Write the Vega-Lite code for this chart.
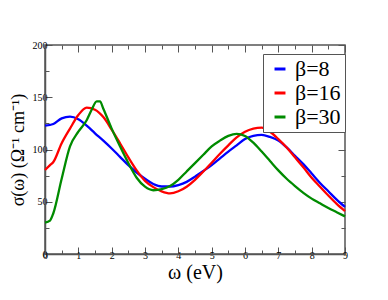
{
  "$schema": "https://vega.github.io/schema/vega-lite/v6.json",
  "autosize": {"type": "none"},
  "width": 300,
  "height": 209,
  "padding": {"left": 45, "top": 45, "right": 43, "bottom": 46},
  "background": "white",
  "config": {
    "font": "Liberation Serif",
    "view": {"stroke": "#555555", "strokeWidth": 1.5},
    "axis": {"grid": false, "labelFont": "Liberation Serif", "titleFont": "Liberation Serif", "labelColor": "black", "titleColor": "black", "domainColor": "#555555", "tickColor": "#555555", "titleFontWeight": "normal", "labelFontSize": 10, "domainWidth": 1.5, "tickWidth": 1},
    "legend": {"labelFont": "Liberation Serif"}
  },
  "data": {"values": [
    {"w":0,"s":122.8,"b":"β=8"},{"w":0.25,"s":124.4,"b":"β=8"},{"w":0.5,"s":129.8,"b":"β=8"},{"w":0.75,"s":131.4,"b":"β=8"},{"w":1.0,"s":128.9,"b":"β=8"},{"w":1.25,"s":122.8,"b":"β=8"},{"w":1.5,"s":115.5,"b":"β=8"},{"w":1.75,"s":108.5,"b":"β=8"},{"w":2.0,"s":101,"b":"β=8"},{"w":2.25,"s":93,"b":"β=8"},{"w":2.5,"s":85,"b":"β=8"},{"w":2.75,"s":78,"b":"β=8"},{"w":3.0,"s":72,"b":"β=8"},{"w":3.25,"s":67,"b":"β=8"},{"w":3.5,"s":64.6,"b":"β=8"},{"w":3.75,"s":64.6,"b":"β=8"},{"w":4.0,"s":66,"b":"β=8"},{"w":4.25,"s":69,"b":"β=8"},{"w":4.5,"s":74,"b":"β=8"},{"w":4.75,"s":79.4,"b":"β=8"},{"w":5.0,"s":85,"b":"β=8"},{"w":5.25,"s":91.5,"b":"β=8"},{"w":5.5,"s":98,"b":"β=8"},{"w":5.75,"s":104,"b":"β=8"},{"w":6.0,"s":110,"b":"β=8"},{"w":6.25,"s":113,"b":"β=8"},{"w":6.5,"s":114,"b":"β=8"},{"w":6.75,"s":112,"b":"β=8"},{"w":7.0,"s":108.5,"b":"β=8"},{"w":7.25,"s":102,"b":"β=8"},{"w":7.5,"s":94,"b":"β=8"},{"w":7.75,"s":86,"b":"β=8"},{"w":8.0,"s":77,"b":"β=8"},{"w":8.25,"s":68,"b":"β=8"},{"w":8.5,"s":60,"b":"β=8"},{"w":8.75,"s":52,"b":"β=8"},{"w":9.0,"s":45,"b":"β=8"},
    {"w":0,"s":80.4,"b":"β=16"},{"w":0.15,"s":85,"b":"β=16"},{"w":0.25,"s":88,"b":"β=16"},{"w":0.5,"s":106,"b":"β=16"},{"w":0.75,"s":120,"b":"β=16"},{"w":1.0,"s":133,"b":"β=16"},{"w":1.25,"s":140,"b":"β=16"},{"w":1.5,"s":138,"b":"β=16"},{"w":1.75,"s":131,"b":"β=16"},{"w":2.0,"s":119,"b":"β=16"},{"w":2.25,"s":106,"b":"β=16"},{"w":2.5,"s":92.5,"b":"β=16"},{"w":2.75,"s":80,"b":"β=16"},{"w":3.0,"s":70,"b":"β=16"},{"w":3.25,"s":64,"b":"β=16"},{"w":3.5,"s":60,"b":"β=16"},{"w":3.75,"s":58,"b":"β=16"},{"w":4.0,"s":60,"b":"β=16"},{"w":4.25,"s":64.4,"b":"β=16"},{"w":4.5,"s":71,"b":"β=16"},{"w":4.75,"s":79,"b":"β=16"},{"w":5.0,"s":87.4,"b":"β=16"},{"w":5.25,"s":96,"b":"β=16"},{"w":5.5,"s":104,"b":"β=16"},{"w":5.75,"s":111.6,"b":"β=16"},{"w":6.0,"s":117,"b":"β=16"},{"w":6.25,"s":120,"b":"β=16"},{"w":6.5,"s":121,"b":"β=16"},{"w":6.75,"s":117,"b":"β=16"},{"w":7.0,"s":110,"b":"β=16"},{"w":7.25,"s":102,"b":"β=16"},{"w":7.5,"s":92.5,"b":"β=16"},{"w":7.75,"s":83,"b":"β=16"},{"w":8.0,"s":73,"b":"β=16"},{"w":8.25,"s":64.4,"b":"β=16"},{"w":8.5,"s":56,"b":"β=16"},{"w":8.75,"s":48,"b":"β=16"},{"w":9.0,"s":41,"b":"β=16"},
    {"w":0,"s":30,"b":"β=30"},{"w":0.15,"s":32,"b":"β=30"},{"w":0.25,"s":39,"b":"β=30"},{"w":0.5,"s":72,"b":"β=30"},{"w":0.75,"s":103,"b":"β=30"},{"w":1.0,"s":117,"b":"β=30"},{"w":1.25,"s":128,"b":"β=30"},{"w":1.4,"s":138,"b":"β=30"},{"w":1.55,"s":146,"b":"β=30"},{"w":1.65,"s":146,"b":"β=30"},{"w":1.75,"s":139,"b":"β=30"},{"w":2.0,"s":120,"b":"β=30"},{"w":2.25,"s":103,"b":"β=30"},{"w":2.5,"s":87,"b":"β=30"},{"w":2.75,"s":73,"b":"β=30"},{"w":3.0,"s":64.4,"b":"β=30"},{"w":3.25,"s":61,"b":"β=30"},{"w":3.5,"s":62,"b":"β=30"},{"w":3.75,"s":65,"b":"β=30"},{"w":4.0,"s":71,"b":"β=30"},{"w":4.25,"s":79,"b":"β=30"},{"w":4.5,"s":87,"b":"β=30"},{"w":4.75,"s":95,"b":"β=30"},{"w":5.0,"s":103,"b":"β=30"},{"w":5.25,"s":108.5,"b":"β=30"},{"w":5.5,"s":113,"b":"β=30"},{"w":5.75,"s":115,"b":"β=30"},{"w":6.0,"s":113,"b":"β=30"},{"w":6.25,"s":106.5,"b":"β=30"},{"w":6.5,"s":98,"b":"β=30"},{"w":6.75,"s":89,"b":"β=30"},{"w":7.0,"s":80,"b":"β=30"},{"w":7.25,"s":72,"b":"β=30"},{"w":7.5,"s":65,"b":"β=30"},{"w":7.75,"s":58.5,"b":"β=30"},{"w":8.0,"s":53,"b":"β=30"},{"w":8.25,"s":48.5,"b":"β=30"},{"w":8.5,"s":44,"b":"β=30"},{"w":8.75,"s":40,"b":"β=30"},{"w":9.0,"s":36,"b":"β=30"}
  ]},
  "layer": [
    {
      "mark": {"type": "line", "interpolate": "monotone", "strokeWidth": 2.3},
      "encoding": {
        "x": {"field": "w", "type": "quantitative", "scale": {"domain": [0, 9], "nice": false},
          "axis": {"orient": "bottom", "title": "ω (eV)", "titleFontSize": 20, "titlePadding": 2,
            "values": [0,1,2,3,4,5,6,7,8,9],
            "format": "d",
            "tickSize": -7,
            "labelPadding": 3, "labelFlush": false}},
        "y": {"field": "s", "type": "quantitative", "scale": {"domain": [0, 200], "nice": false},
          "axis": {"orient": "left", "title": "σ(ω) (Ω⁻¹ cm⁻¹)", "titleFontSize": 18, "titlePadding": 5,
            "values": [0,50,100,150,200],
            "tickSize": -7,
            "labelPadding": 5, "labelFlush": false}},
        "color": {"field": "b", "type": "nominal", "sort": ["β=8", "β=16", "β=30"],
          "scale": {"domain": ["β=8", "β=16", "β=30"], "range": ["#0000ff", "#ff0000", "#008b00"]},
          "legend": {"orient": "none", "legendX": 218, "legendY": 9, "title": null,
            "symbolType": "stroke", "symbolStrokeWidth": 3, "symbolSize": 120,
            "labelFont": "Liberation Serif", "labelFontSize": 22, "labelColor": "black",
            "strokeColor": "#555555", "fillColor": "white", "padding": 4, "rowPadding": 2,
            "labelOffset": 4, "symbolOffset": 2}}
      }
    },
    {
      "mark": {"type": "line", "strokeOpacity": 0},
      "encoding": {
        "x": {"field": "w", "type": "quantitative",
          "axis": {"orient": "bottom", "title": null, "labels": false, "domain": false,
            "values": [0.5,1.5,2.5,3.5,4.5,5.5,6.5,7.5,8.5], "tickSize": -4}},
        "y": {"field": "s", "type": "quantitative",
          "axis": {"orient": "left", "title": null, "labels": false, "domain": false,
            "values": [25,75,125,175], "tickSize": -4}}
      }
    },
    {
      "mark": {"type": "line", "strokeOpacity": 0},
      "encoding": {
        "x": {"field": "w", "type": "quantitative",
          "axis": {"orient": "top", "title": null, "labels": false, "domain": false,
            "values": [0,0.5,1,1.5,2,2.5,3,3.5,4,4.5,5,5.5,6,6.5,7,7.5,8,8.5,9],
            "tickSize": {"condition": {"test": "datum.value % 1 === 0", "value": -7}, "value": -4}}},
        "y": {"field": "s", "type": "quantitative",
          "axis": {"orient": "right", "title": null, "labels": false, "domain": false,
            "values": [0,25,50,75,100,125,150,175,200],
            "tickSize": {"condition": {"test": "datum.value % 50 === 0", "value": -7}, "value": -4}}}
      }
    }
  ],
  "resolve": {"axis": {"x": "independent", "y": "independent"}}
}
